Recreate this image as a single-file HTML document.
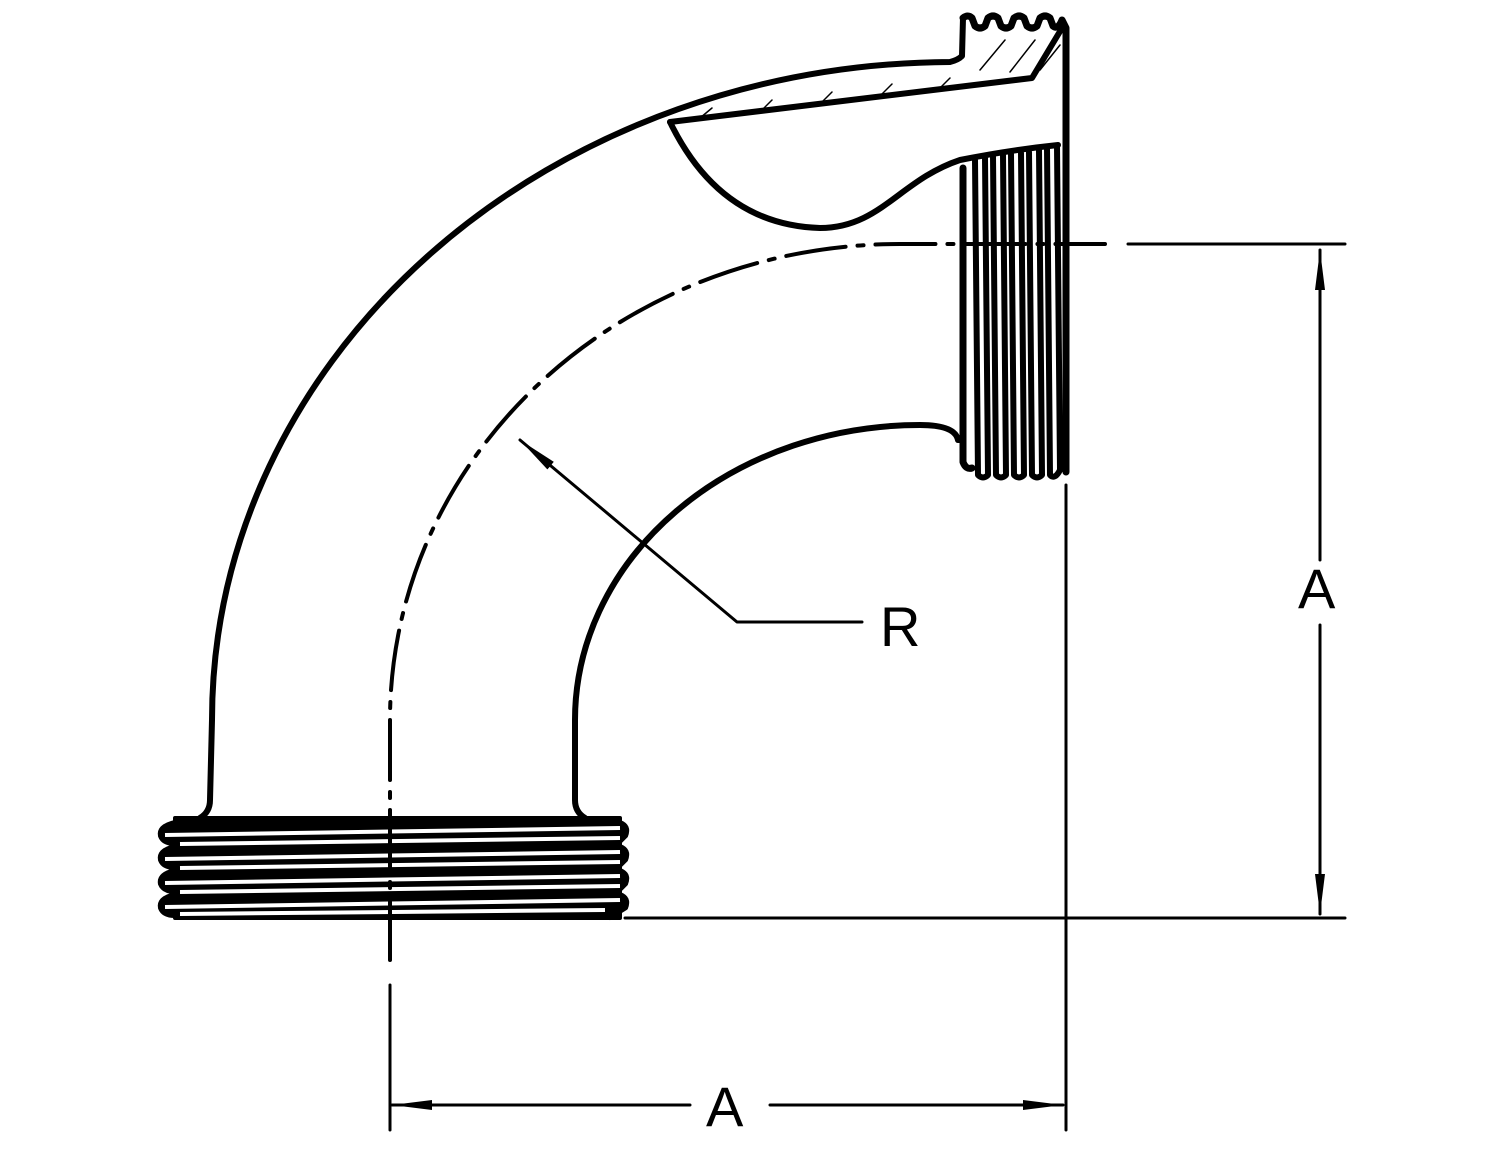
<!DOCTYPE html>
<html><head><style>html,body{margin:0;padding:0;background:#fff}</style></head><body>
<svg width="1500" height="1159" viewBox="0 0 1500 1159" xmlns="http://www.w3.org/2000/svg" fill="none" stroke="#000" stroke-linecap="round" stroke-linejoin="round">
<defs>
<marker id="al" markerWidth="40" markerHeight="14" refX="40" refY="7" orient="auto" markerUnits="userSpaceOnUse"><path d="M0,2 L40,7 L0,12z" fill="#000" stroke="none"/></marker>
</defs>
<!-- outer arc -->
<path d="M200,818 Q210,812 210,800 L212,720 A742 658 0 0 1 950,62 Q958,60 962,56 L963,18" stroke-width="6"/>
<!-- top threads -->
<path d="M963,18 Q968,14 972,18 L975,26 Q980,30 985,26 L988,18 Q993,14 998,18 L1001,26 Q1006,30 1011,26 L1014,18 Q1019,14 1024,18 L1027,26 Q1032,30 1037,26 L1040,18 Q1045,14 1050,18 L1053,26 Q1058,30 1062,20 L1066,28 L1066,472" stroke-width="7"/>
<path d="M1062,28 L1032,78 L670,122" stroke-width="6"/>
<path d="M980,70 L1005,40 M1010,72 L1035,40 M1040,70 L1060,45 M700,118 L712,108 M760,112 L772,100 M820,104 L832,92 M880,96 L892,84 M940,88 L950,78" stroke-width="1.5"/>
<!-- cutaway curve -->
<path d="M670,122 Q720,225 820,228 C880,228 900,180 960,160 Q1010,150 1058,145" stroke-width="6"/>
<!-- flange threads vertical -->
<path d="M963,168 L963,462 Q966,470 972,468" stroke-width="7"/>
<g stroke-width="6">
<path d="M975,160 L978,475 Q983,480 988,475 L985,158"/>
<path d="M993,156 L996,475 Q1001,480 1006,475 L1003,155"/>
<path d="M1011,154 L1014,475 Q1019,480 1024,475 L1021,153"/>
<path d="M1029,152 L1032,475 Q1037,480 1042,475 L1039,150"/>
<path d="M1047,148 L1050,475 Q1055,480 1060,470 L1057,146"/>
</g>
<!-- inner arc -->
<path d="M585,818 Q575,812 575,800 L575,720 A345 295 0 0 1 920,425 Q955,425 958,440 L963,440" stroke-width="6"/>
<!-- bottom threads: black band with white gaps -->
<rect x="175" y="818" width="445" height="100" fill="#000" stroke="#000" stroke-width="4"/>
<g fill="#000" stroke="#000" stroke-width="4">
<path d="M175,822 Q158,826 160,836 Q163,844 175,844 Z"/>
<path d="M175,846 Q158,850 160,860 Q163,868 175,868 Z"/>
<path d="M175,870 Q158,874 160,884 Q163,892 175,892 Z"/>
<path d="M175,894 Q158,898 160,908 Q163,916 175,916 Z"/>
<path d="M620,822 Q630,826 626,836 L620,842 Z"/>
<path d="M620,846 Q630,850 626,860 L620,866 Z"/>
<path d="M620,870 Q630,874 626,884 L620,890 Z"/>
<path d="M620,894 Q630,898 626,908 L610,918 Z"/>
</g>
<g stroke="#fff" stroke-width="4" stroke-linecap="butt">
<path d="M165,835 L620,828"/>
<path d="M180,844 L620,838"/>
<path d="M165,859 L620,852"/>
<path d="M180,868 L620,862"/>
<path d="M165,883 L620,876"/>
<path d="M180,892 L620,886"/>
<path d="M165,907 L620,900"/>
<path d="M180,914 L605,910"/>
</g>
<!-- centerline -->
<path d="M390,960 L390,720 A510 476 0 0 1 900,244 L1105,244" stroke-width="4" stroke-dasharray="60 12 6 12"/>
<path d="M1128,244 L1345,244" stroke-width="3"/>
<!-- dimensions -->
<g stroke-width="3">
<path d="M625,918 L1345,918"/>
<path d="M1066,485 L1066,1130"/>
<path d="M390,985 L390,1130"/>
<path d="M1320,560 L1320,250" marker-end="url(#al)"/>
<path d="M1320,625 L1320,914" marker-end="url(#al)"/>
<path d="M690,1105 L392,1105" marker-end="url(#al)"/>
<path d="M770,1105 L1063,1105" marker-end="url(#al)"/>
<path d="M862,622 L737,622 L520,440" marker-end="url(#al)"/>
</g>
<g fill="#000" stroke="none" font-family="Liberation Sans, sans-serif" font-size="56">
<text x="1298" y="608">A</text>
<text x="706" y="1126">A</text>
<text x="880" y="646">R</text>
</g>
</svg>
</body></html>
